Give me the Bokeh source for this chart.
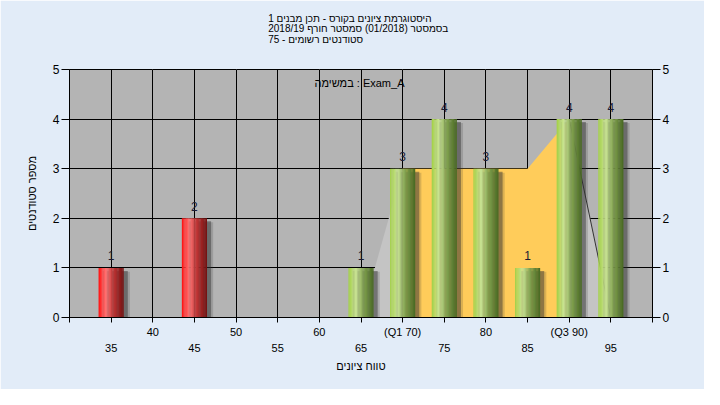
import numpy as np
from bokeh.plotting import figure
from bokeh.models import (ColumnDataSource, FixedTicker, LinearAxis, Label, Range1d, Grid, Title)
from bokeh.core.properties import value
from bokeh.transform import dodge
from bokeh.embed import file_html
from bokeh.resources import INLINE

# ---------------- data ----------------
grade_bins = [35, 45, 65, 70, 75, 80, 85, 90, 95]
student_counts = [1, 2, 1, 3, 4, 3, 1, 4, 4]
passing_grade = 55
q1_grade = 70
q3_grade = 90
dist_x = [65, 70, 75, 80, 85, 90, 95]
dist_y = [0, 3, 3, 3, 3, 4, 0]
row1_ticks = [40, 50, 60, 70, 80, 90]
row1_labels = ["40", "50", "60", "(Q1 70)", "80", "(Q3 90)"]
row2_ticks = [35, 45, 55, 65, 75, 85, 95]
row2_labels = ["35", "45", "55", "65", "75", "85", "95"]
all_x_ticks = [30, 35, 40, 45, 50, 55, 60, 65, 70, 75, 80, 85, 90, 95, 100]
y_ticks = [0, 1, 2, 3, 4, 5]

title_lines = [
    "היסטוגרמת ציונים בקורס - תכן מבנים 1",
    "בסמסטר  (01/2018)  סמסטר חורף 2018/19",
    "סטודנטים רשומים - 75",
]
legend_text = "במשימה : Exam_A"
x_title = "טווח ציונים"
y_title = "מספר סטודנטים"

FONT = "Liberation Sans"
W, H = 704, 389
L, R, T, B = 69, 52, 69, 72
X0, X1, Y0, Y1 = 30, 100, 0, 5

p = figure(width=W, height=H, output_backend="svg", toolbar_location=None,
           x_range=Range1d(X0, X1), y_range=Range1d(Y0, Y1),
           min_border_left=L, min_border_right=R, min_border_top=T, min_border_bottom=B,
           background_fill_color="#B4B4B4", border_fill_color="#E2ECF8",
           outline_line_color="black", outline_line_width=1,
           x_axis_location=None, y_axis_location=None)

def px(cx, cy):
    fw = W - L - R
    fh = H - T - B
    return X0 + (cx - L) * (X1 - X0) / fw, Y0 + (H - B - cy) * (Y1 - Y0) / fh

# title (three lines + two blank spacer lines below them)
p.add_layout(Title(text="\n".join(title_lines) + "\n\u00a0\n\u00a0", align="center", offset=-7,
                   standoff=8, text_font=FONT, text_font_size="10px", text_font_style="normal",
                   text_color="black", text_line_height=0.95), "above")

# grids
p.add_layout(Grid(dimension=0, ticker=FixedTicker(ticks=all_x_ticks[1:-1]),
                  grid_line_color="black", grid_line_width=1))
p.add_layout(Grid(dimension=1, ticker=FixedTicker(ticks=y_ticks[1:-1]),
                  grid_line_color="black", grid_line_width=1))

# axes
xa1 = LinearAxis(ticker=FixedTicker(ticks=row1_ticks,
                                    minor_ticks=[t for t in all_x_ticks if t not in row1_ticks]),
                 major_label_overrides={t: s for t, s in zip(row1_ticks, row1_labels)},
                 axis_line_color="black", major_tick_line_color="black",
                 minor_tick_line_color="black", major_tick_out=5, major_tick_in=0,
                 minor_tick_out=5, minor_tick_in=0, major_label_standoff=3,
                 major_label_text_font=FONT, major_label_text_font_size="11px",
                 major_label_text_color="black")
p.add_layout(xa1, "below")
xa2 = LinearAxis(ticker=FixedTicker(ticks=row2_ticks, minor_ticks=[]),
                 major_label_overrides={t: s for t, s in zip(row2_ticks, row2_labels)},
                 axis_line_color=None, major_tick_line_color=None, minor_tick_line_color=None,
                 major_tick_out=0, major_tick_in=0, major_label_standoff=3,
                 major_label_text_font=FONT, major_label_text_font_size="11px",
                 major_label_text_color="black",
                 axis_label=x_title, axis_label_text_font=FONT, axis_label_text_font_size="11px",
                 axis_label_text_font_style="normal", axis_label_text_color="black",
                 axis_label_standoff=5)
p.add_layout(xa2, "below")

ya_left = LinearAxis(ticker=FixedTicker(ticks=y_ticks, minor_ticks=[]),
                     axis_line_color="black", major_tick_line_color="black",
                     major_tick_out=8, major_tick_in=0, major_label_standoff=2,
                     major_label_text_font=FONT, major_label_text_font_size="12px",
                     major_label_text_color="black",
                     axis_label=y_title, axis_label_text_font=FONT, axis_label_text_font_size="11px",
                     axis_label_text_font_style="normal", axis_label_text_color="black",
                     axis_label_standoff=12)
p.add_layout(ya_left, "left")
ya_right = LinearAxis(ticker=FixedTicker(ticks=y_ticks, minor_ticks=[]),
                      axis_line_color="black", major_tick_line_color="black",
                      major_tick_out=8, major_tick_in=0, major_label_standoff=2,
                      major_label_text_font=FONT, major_label_text_font_size="12px",
                      major_label_text_color="black")
p.add_layout(ya_right, "right")

# distribution area (behind bars)
left = [(x, y) for x, y in zip(dist_x, dist_y) if x <= q1_grade]
mid = [(x, y) for x, y in zip(dist_x, dist_y) if q1_grade <= x <= q3_grade]
right = [(x, y) for x, y in zip(dist_x, dist_y) if x >= q3_grade]
p.varea(x=[a for a, _ in left], y1=0, y2=[b for _, b in left], fill_color="#C4C4C4")
p.varea(x=[a for a, _ in mid], y1=0, y2=[b for _, b in mid], fill_color="#FFCC5A")
p.varea(x=[a for a, _ in right], y1=0, y2=[b for _, b in right], fill_color="#C4C4C4")
p.line(x=[a for a, _ in right], y=[b for _, b in right], line_color="#333333", line_width=1)

# bar shadows
bar_width = 3.0
src = ColumnDataSource(dict(x=grade_bins, count=student_counts,
                            label=[str(c) for c in student_counts]))
p.vbar(x=dodge("x", 0.75, range=p.x_range), top=dodge("count", -0.08), bottom=0, width=bar_width,
       fill_color="#303030", fill_alpha=0.18, line_color=None, source=src)
p.vbar(x=dodge("x", 0.5, range=p.x_range), top=dodge("count", -0.06), bottom=0, width=bar_width,
       fill_color="#303030", fill_alpha=0.45, line_color=None, source=src)

# cylinder-shaded bars
red_stops = [(0.0, (255, 16, 16)), (0.3, (255, 118, 118)), (0.6, (190, 52, 52)), (1.0, (115, 16, 16))]
green_stops = [(0.0, (163, 208, 70)), (0.3, (202, 228, 150)), (0.6, (130, 162, 80)), (1.0, (72, 104, 34))]

def shade(stops, t):
    for (t0, c0), (t1, c1) in zip(stops[:-1], stops[1:]):
        if t0 <= t <= t1:
            f = (t - t0) / (t1 - t0)
            c = [round(a + (b - a) * f) for a, b in zip(c0, c1)]
            return "#%02x%02x%02x" % tuple(c)
    return "#%02x%02x%02x" % stops[-1][1]

n_strips = 20
sx, stop, scol = [], [], []
for b, c in zip(grade_bins, student_counts):
    stops = red_stops if b < passing_grade else green_stops
    for i in range(n_strips):
        t = (i + 0.5) / n_strips
        sx.append(b + (t - 0.5) * bar_width)
        stop.append(c)
        scol.append(shade(stops, t))
p.vbar(x=sx, top=stop, bottom=0, width=bar_width / n_strips * 1.15,
       fill_color=scol, line_color=None)

# value labels
p.text(x="x", y="count", text="label", source=src, text_align="center", text_baseline="middle",
       y_offset=-12, text_font=value(FONT), text_font_size="12px", text_color="#1a1a33")

# series legend text
lx, ly = px(359, 82.6)
p.add_layout(Label(x=lx, y=ly, text=legend_text, text_align="center", text_baseline="middle",
                   text_font=FONT, text_font_size="11px", text_color="black"))

open("out.html", "w").write(file_html(p, INLINE))
